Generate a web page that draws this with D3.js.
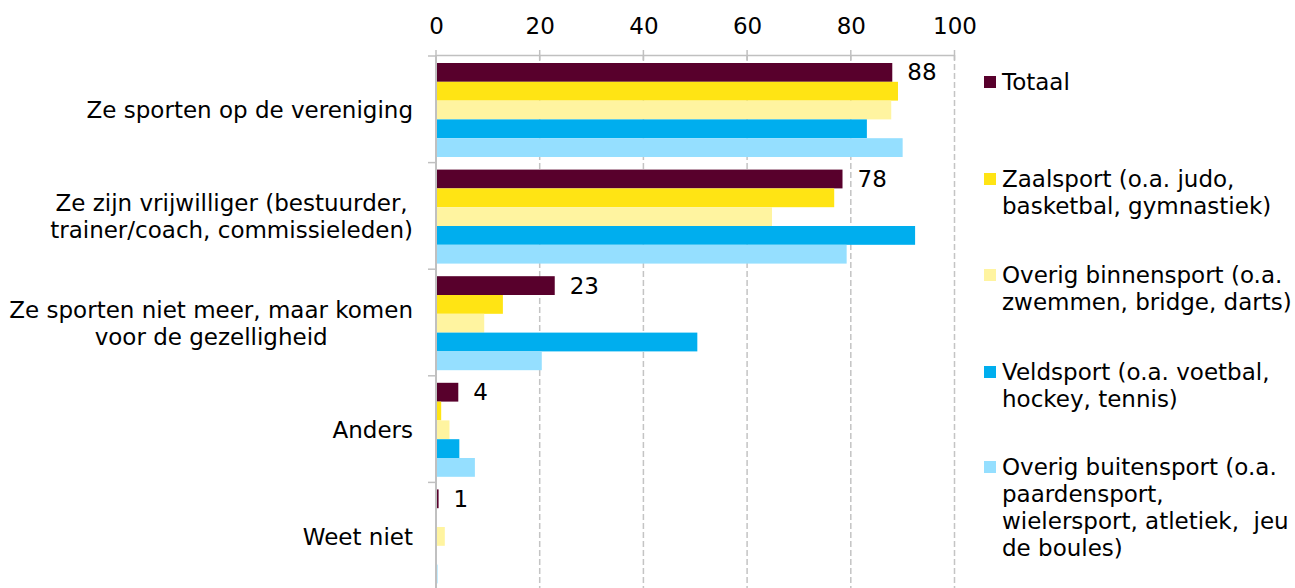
<!DOCTYPE html>
<html><head><meta charset="utf-8">
<script src="https://cdn.jsdelivr.net/npm/d3@7"></script>
<style>
html,body{margin:0;padding:0;background:#fff;}
svg{display:block;font-family:"DejaVu Sans",sans-serif;}
</style></head>
<body>
<svg id="chart" width="1295" height="588"></svg>
<script>
const categories = [
  ["Ze sporten op de vereniging"],
  ["Ze zijn vrijwilliger (bestuurder,", "trainer/coach, commissieleden)"],
  ["Ze sporten niet meer, maar komen", "voor de gezelligheid"],
  ["Anders"],
  ["Weet niet"]
];
const seriesNames = ["Totaal", "Zaalsport", "Overig binnensport", "Veldsport", "Overig buitensport"];
const legendLabels = [
  ["Totaal"],
  ["Zaalsport (o.a. judo,", "basketbal, gymnastiek)"],
  ["Overig binnensport (o.a.", "zwemmen, bridge, darts)"],
  ["Veldsport (o.a. voetbal,", "hockey, tennis)"],
  ["Overig buitensport (o.a.", "paardensport,", "wielersport, atletiek,  jeu", "de boules)"]
];
const totaal            = [88, 78.4, 22.9, 4.3, 0.5];
const zaalsport         = [89.1, 76.8, 12.9, 1.0, 0];
const overigBinnensport = [87.8, 64.8, 9.3, 2.6, 1.7];
const veldsport         = [83.1, 92.4, 50.4, 4.5, 0];
const overigBuitensport = [90.0, 79.2, 20.4, 7.5, 0.3];
const totaalLabels = ["88", "78", "23", "4", "1"];
const xTicks = [0, 20, 40, 60, 80, 100];
const colors = ["#58002c", "#ffe414", "#fff4a0", "#00aeee", "#95dfff"];

const seriesValues = [totaal, zaalsport, overigBinnensport, veldsport, overigBuitensport];
const svg = d3.select("#chart");
const fs = 23;

const x = d3.scaleLinear().domain([0, 100]).range([436, 954.5]);
const catIdx = d3.range(categories.length);
const y0 = d3.scaleBand().domain(catIdx).range([56, 56 + 5 * 106.6]);
const y1 = d3.scaleBand().domain(d3.range(seriesNames.length)).range([7, 101]);

// gridlines
svg.append("g").selectAll("line").data(xTicks.slice(1)).join("line")
  .attr("x1", d => x(d)).attr("x2", d => x(d))
  .attr("y1", 55).attr("y2", 588)
  .attr("stroke", "#c4c4c4").attr("stroke-width", 1.5).attr("stroke-dasharray", "6,3");

// bars
const g = svg.append("g");
catIdx.forEach(ci => {
  seriesValues.forEach((vals, si) => {
    g.append("rect")
      .attr("x", x(0))
      .attr("y", y0(ci) + y1(si))
      .attr("width", Math.max(0, x(vals[ci]) - x(0)))
      .attr("height", y1.bandwidth())
      .attr("fill", colors[si]);
  });
});

// top axis
const xAxis = d3.axisTop(x).tickValues(xTicks).tickSize(0).tickPadding(0);
const ax = svg.append("g").attr("transform", "translate(0,55)").call(xAxis);
ax.select(".domain").attr("stroke", "#c0c0c0").attr("stroke-width", 1.5);
ax.selectAll(".tick text").attr("font-size", fs).attr("fill", "#000")
  .attr("font-family", "DejaVu Sans").attr("y", -21).attr("dy", 0);
svg.append("g").selectAll("line").data(xTicks).join("line")
  .attr("x1", d => x(d)).attr("x2", d => x(d)).attr("y1", 50).attr("y2", 60)
  .attr("stroke", "#c0c0c0").attr("stroke-width", 1.5);

// left axis
svg.append("line").attr("x1", x(0)).attr("x2", x(0)).attr("y1", 55).attr("y2", 588)
  .attr("stroke", "#c0c0c0").attr("stroke-width", 2);
svg.append("g").selectAll("line").data(catIdx.concat([categories.length])).join("line")
  .attr("x1", 428).attr("x2", x(0))
  .attr("y1", d => 56 + d * y0.step()).attr("y2", d => 56 + d * y0.step())
  .attr("stroke", "#c0c0c0").attr("stroke-width", 1.5);

// category labels
const lh = 27;
catIdx.forEach(ci => {
  const lines = categories[ci];
  const cy = y0(ci) + y0.bandwidth() / 2;
  const t = svg.append("text").attr("font-size", fs).attr("fill", "#000");
  lines.forEach((l, li) => {
    t.append("tspan").attr("x", 0).attr("y", cy + (li - (lines.length - 1) / 2) * lh + 1).attr("dy", "0.35em").text(l);
  });
  const spans = t.selectAll("tspan").nodes();
  const widths = spans.map(s => s.getComputedTextLength());
  const maxW = d3.max(widths);
  spans.forEach((s, i) => {
    d3.select(s).attr("x", 413 - maxW + (maxW - widths[i]) / 2);
  });
});

// value labels for Totaal
catIdx.forEach(ci => {
  svg.append("text").attr("font-size", fs).attr("fill", "#000")
    .attr("x", x(totaal[ci]) + 15)
    .attr("y", y0(ci) + y1(0) + y1.bandwidth() / 2).attr("dy", "0.35em")
    .text(totaalLabels[ci]);
});

// legend
const legendY = [82, 179, 275, 372, 467];
legendLabels.forEach((lines, i) => {
  svg.append("rect").attr("x", 984).attr("y", legendY[i] - 6).attr("width", 12).attr("height", 12).attr("fill", colors[i]);
  const t = svg.append("text").attr("font-size", fs).attr("fill", "#000");
  lines.forEach((l, li) => {
    t.append("tspan").attr("x", 1002).attr("y", legendY[i] + li * lh).attr("dy", "0.35em").attr("xml:space", "preserve").text(l);
  });
});
</script>
</body></html>
